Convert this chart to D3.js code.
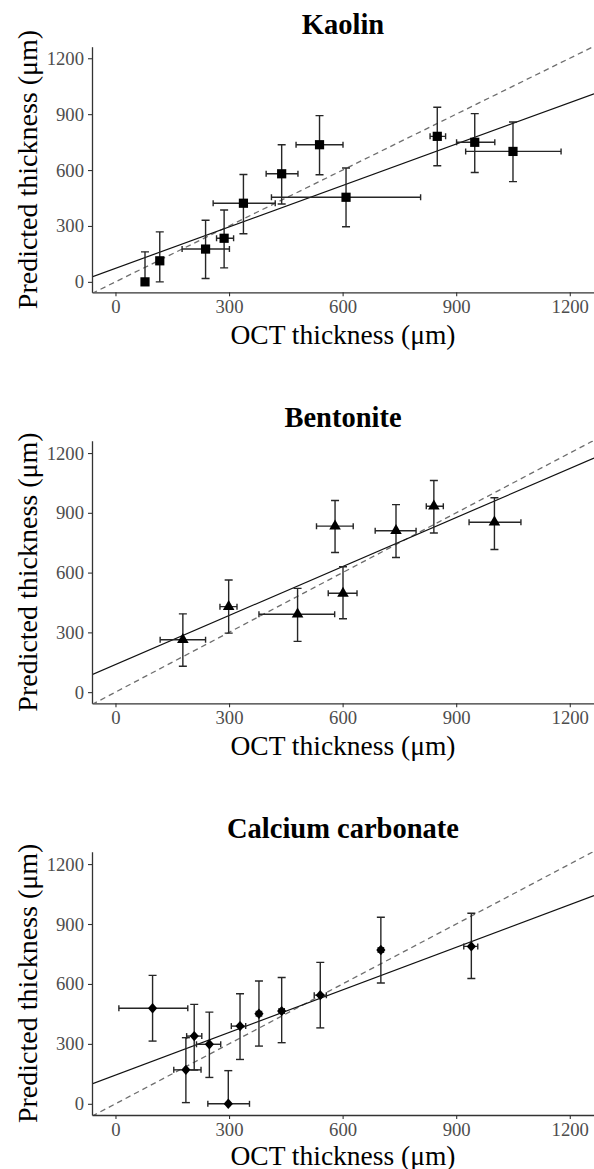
<!DOCTYPE html>
<html><head><meta charset="utf-8">
<script src="https://cdn.jsdelivr.net/npm/d3@7"></script>
<style>body{margin:0;background:#fff} svg{display:block} text{font-family:'Liberation Serif','Times New Roman',serif}</style>
</head><body><svg id="c" width="594" height="1169" font-family="Liberation Serif"></svg>
<script>
// ---------- data ----------
const titles = ["Kaolin", "Bentonite", "Calcium carbonate"];
const xTicks = [0, 300, 600, 900, 1200];
const yTicks = [0, 300, 600, 900, 1200];
const xLabel = "OCT thickness (\u03bcm)";
const yLabel = "Predicted thickness (\u03bcm)";

const kaolinX   = [78, 117, 238, 287, 338, 439, 539, 609, 850, 949, 1050];
const kaolinY   = [0, 113, 176, 234, 422, 580, 736, 454, 781, 749, 700];
const kaolinYlo = [0, 0, 18, 75, 258, 418, 575, 296, 623, 587, 538];
const kaolinYhi = [161, 268, 331, 386, 576, 736, 892, 611, 937, 903, 858];
const kaolinXlo = [73, 112, 176, 267, 258, 398, 477, 412, 831, 901, 925];
const kaolinXhi = [83, 122, 301, 312, 422, 482, 601, 806, 872, 1002, 1177];

const bentX   = [178, 299, 481, 601, 580, 741, 841, 1001];
const bentY   = [263, 429, 391, 496, 833, 810, 933, 853];
const bentYlo = [130, 296, 255, 368, 701, 676, 799, 716];
const bentYhi = [393, 563, 521, 629, 962, 941, 1062, 976];
const bentXlo = [118, 276, 379, 562, 531, 686, 821, 934];
const bentXhi = [238, 321, 579, 638, 628, 794, 866, 1071];

const caX   = [98, 186, 208, 248, 298, 329, 379, 439, 541, 701, 940];
const caY   = [478, 170, 339, 298, 0, 389, 451, 464, 544, 770, 788];
const caYlo = [314, 6, 169, 132, 0, 222, 289, 306, 380, 605, 627];
const caYhi = [643, 331, 498, 459, 166, 551, 615, 632, 708, 934, 954];
const caXlo = [9, 154, 188, 214, 244, 306, 372, 432, 525, 694, 920];
const caXhi = [191, 226, 228, 278, 354, 344, 386, 446, 557, 708, 957];

const fitIntercept = [72.6, 138.4, 143.7];
const fitSlope     = [0.741, 0.82, 0.711];
const xDomain = [-62, 1264];
const yDomain = [-56, 1262];

// ---------- layout ----------
const svg = d3.select("#c");
const FONT = "'Liberation Serif','Times New Roman',serif";
const left = 92, right = 594;
const layouts = [
  {top: 46.7, bottom: 292.3, title: 34.3, xl: 343.5},
  {top: 440.7, bottom: 703.3, title: 426.6, xl: 755},
  {top: 851.7, bottom: 1115, title: 838.3, xl: 1164.5}
];
const seriesList = [
  {x: kaolinX, y: kaolinY, ylo: kaolinYlo, yhi: kaolinYhi, xlo: kaolinXlo, xhi: kaolinXhi, shape: "square"},
  {x: bentX, y: bentY, ylo: bentYlo, yhi: bentYhi, xlo: bentXlo, xhi: bentXhi, shape: "triangle"},
  {x: caX, y: caY, ylo: caYlo, yhi: caYhi, xlo: caXlo, xhi: caXhi, shape: "diamond"}
];
const barColor = "#262626";

seriesList.forEach((s, i) => {
  const L = layouts[i];
  const x = d3.scaleLinear().domain(xDomain).range([left, right]);
  const y = d3.scaleLinear().domain(yDomain).range([L.bottom, L.top]);
  const g = svg.append("g");

  const clipId = "clip" + i;
  svg.append("clipPath").attr("id", clipId).append("rect")
    .attr("x", left).attr("y", L.top).attr("width", right - left).attr("height", L.bottom - L.top);
  const pg = g.append("g").attr("clip-path", `url(#${clipId})`);

  pg.append("line")
    .attr("x1", x(xDomain[0])).attr("y1", y(xDomain[0]))
    .attr("x2", x(xDomain[1])).attr("y2", y(xDomain[1]))
    .attr("stroke", "#6e6e6e").attr("stroke-width", 1.3).attr("stroke-dasharray", "5.5,4");
  pg.append("line")
    .attr("x1", x(xDomain[0])).attr("y1", y(fitIntercept[i] + fitSlope[i] * xDomain[0]))
    .attr("x2", x(xDomain[1])).attr("y2", y(fitIntercept[i] + fitSlope[i] * xDomain[1]))
    .attr("stroke", "#111").attr("stroke-width", 1.2);

  const idx = d3.range(s.x.length);
  const vb = pg.append("g").attr("stroke", barColor).attr("stroke-width", 1.4).attr("fill", "none");
  idx.forEach(k => {
    const cx = x(s.x[k]);
    vb.append("line").attr("x1", cx).attr("x2", cx).attr("y1", y(s.ylo[k])).attr("y2", y(s.yhi[k]));
    vb.append("line").attr("x1", cx - 4).attr("x2", cx + 4).attr("y1", y(s.ylo[k])).attr("y2", y(s.ylo[k]));
    vb.append("line").attr("x1", cx - 4).attr("x2", cx + 4).attr("y1", y(s.yhi[k])).attr("y2", y(s.yhi[k]));
    const cy = y(s.y[k]);
    vb.append("line").attr("x1", x(s.xlo[k])).attr("x2", x(s.xhi[k])).attr("y1", cy).attr("y2", cy);
    vb.append("line").attr("x1", x(s.xlo[k])).attr("x2", x(s.xlo[k])).attr("y1", cy - 3).attr("y2", cy + 3);
    vb.append("line").attr("x1", x(s.xhi[k])).attr("x2", x(s.xhi[k])).attr("y1", cy - 3).attr("y2", cy + 3);
  });

  const pts = g.append("g").attr("fill", "#000");
  idx.forEach(k => {
    const cx = x(s.x[k]), cy = y(s.y[k]);
    if (s.shape === "square") {
      pts.append("rect").attr("x", cx - 4.6).attr("y", cy - 4.6).attr("width", 9.2).attr("height", 9.2);
    } else if (s.shape === "triangle") {
      pts.append("path").attr("transform", `translate(${cx},${cy})`)
        .attr("d", d3.symbol().type(d3.symbolTriangle).size(58)());
    } else {
      pts.append("path").attr("d", `M${cx},${cy - 5.2}L${cx + 4.6},${cy}L${cx},${cy + 5.2}L${cx - 4.6},${cy}Z`);
    }
  });

  const fmt = d3.format("d");
  const xa = g.append("g").attr("transform", `translate(0,${L.bottom})`)
    .call(d3.axisBottom(x).tickValues(xTicks).tickFormat(fmt).tickSize(4).tickSizeOuter(0).tickPadding(3.6));
  const ya = g.append("g").attr("transform", `translate(${left},0)`)
    .call(d3.axisLeft(y).tickValues(yTicks).tickFormat(fmt).tickSize(4).tickSizeOuter(0).tickPadding(4));
  [xa, ya].forEach(a => {
    a.attr("font-family", FONT);
    a.select(".domain").attr("stroke", "#333").attr("stroke-width", 1.3);
    a.selectAll(".tick line").attr("stroke", "#333").attr("stroke-width", 1.1);
    a.selectAll(".tick text").attr("fill", "#4d4d4d").style("font-family", FONT).style("font-size", "18.7px");
  });

  g.append("text").attr("x", (left + right) / 2).attr("y", L.title)
    .attr("text-anchor", "middle").style("font-family", FONT).style("font-size", "28.5px")
    .style("font-weight", "bold").attr("fill", "#000").text(titles[i]);
  g.append("text").attr("x", (left + right) / 2).attr("y", L.xl)
    .attr("text-anchor", "middle").style("font-family", FONT).style("font-size", "27.5px")
    .attr("fill", "#000").text(xLabel);
  g.append("text").attr("transform", `translate(36.5,${(L.top + L.bottom) / 2}) rotate(-90)`)
    .attr("text-anchor", "middle").style("font-family", FONT).style("font-size", "28px")
    .attr("fill", "#000").text(yLabel);
});
</script></body></html>
